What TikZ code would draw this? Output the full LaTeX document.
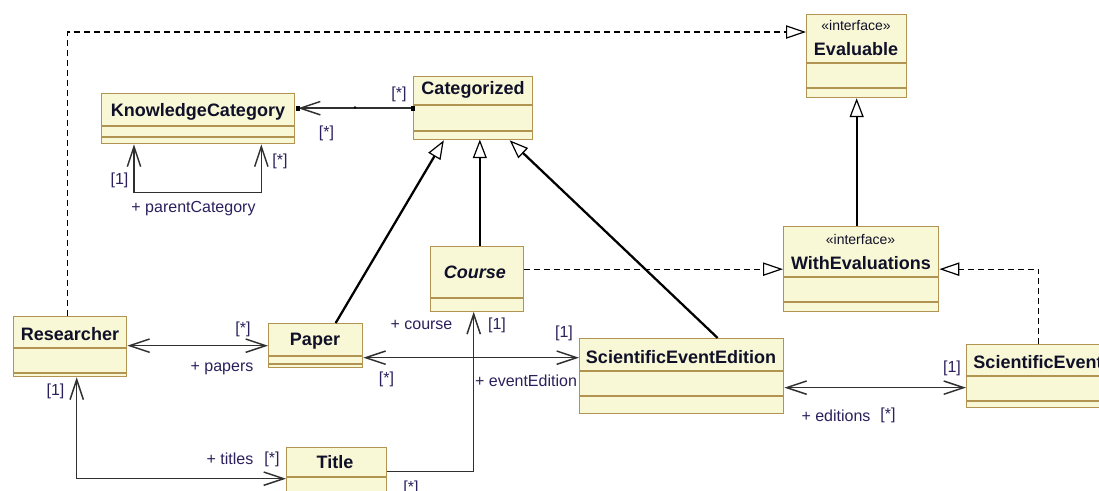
\documentclass[tikz,border=0pt]{standalone}
\usepackage{fontspec}
\setmainfont{Liberation Sans}
\usetikzlibrary{arrows.meta}

\definecolor{clsfill}{RGB}{248,248,214}
\definecolor{clsborder}{RGB}{178,148,82}
\definecolor{namecol}{RGB}{16,16,40}
\definecolor{lblcol}{RGB}{44,32,92}
\definecolor{linecol}{RGB}{48,48,48}

\tikzset{every picture/.style={line width=0.75pt}}
\tikzset{
  cls/.style 2 args={draw=clsborder, fill=clsfill, line width=1pt, inner sep=0pt, anchor=north west,
    minimum width=#1*0.75pt, minimum height=#2*0.75pt},
  clsline/.style={draw=clsborder, line width=1pt},
  cname/.style={font=\fontsize{13.5}{16}\selectfont\bfseries, text=namecol, inner sep=0pt},
  stereo/.style={font=\fontsize{10.5}{12}\selectfont, text=namecol, inner sep=0pt},
  lbl/.style={font=\fontsize{12}{14}\selectfont, text=lblcol, inner sep=0pt},
  assoc/.style={draw=linecol, line width=1.1pt},
  barb/.style={assoc, -{Straight Barb[length=15pt,width=10pt]}},
  barbs/.style={assoc, {Straight Barb[length=15pt,width=10pt]}-{Straight Barb[length=15pt,width=10pt]}},
  gen/.style={draw=black, line width=1.7pt, -{Triangle[open, length=14pt, width=10.5pt, line width=0.9pt]}},
  real/.style={draw=black, line width=1pt, dash pattern=on 4.5pt off 3pt,
    -{Triangle[open, length=15pt, width=10pt, line width=0.9pt]}},
  endsq/.style={fill=black, inner sep=0pt, minimum size=3.5pt},
  middot/.style={fill=black, circle, inner sep=0pt, minimum size=2pt},
}

\begin{document}
\begin{tikzpicture}[x=0.75pt,y=0.75pt,yscale=-1,xscale=1]
\clip (0,0) rectangle (1099,490);
\fill[white] (0,0) rectangle (1099,490);

%Class: Evaluable
\node[cls={100}{83}] (ev) at (806,14) {};
\draw[clsline] (806,63) -- (906,63) (806,88) -- (906,88);
\node[stereo] (ev-st) at (856,25.5) {«interface»};
\node[cname] (ev-name) at (856,49) {Evaluable};

%Class: Categorized
\node[cls={119}{63}] (cat) at (413,76) {};
\draw[clsline] (413,105) -- (532,105) (413,131) -- (532,131);
\node[cname] (cat-name) at (473,89.5) {Categorized};

%Class: KnowledgeCategory
\node[cls={193}{50}] (kc) at (101,93) {};
\draw[clsline] (101,126) -- (294,126) (101,137) -- (294,137);
\node[cname] (kc-name) at (198,111.5) {KnowledgeCategory};

%Class: WithEvaluations
\node[cls={155}{85}] (we) at (783,226) {};
\draw[clsline] (783,277) -- (938,277) (783,302) -- (938,302);
\node[stereo] (we-st) at (860.5,239.5) {«interface»};
\node[cname] (we-name) at (861,263.5) {WithEvaluations};

%Class: Course
\node[cls={93}{65}] (course) at (430,245.5) {};
\draw[clsline] (430,298) -- (523,298);
\node[cname] (course-name) at (475,272.5) {\itshape Course};

%Class: Researcher
\node[cls={113}{60}] (res) at (13,316) {};
\draw[clsline] (13,348) -- (126,348) (13,373) -- (126,373);
\node[cname] (res-name) at (70,334) {Researcher};

%Class: Paper
\node[cls={94}{44}] (paper) at (268,323) {};
\draw[clsline] (268,356) -- (362,356) (268,364) -- (362,364);
\node[cname] (paper-name) at (315,341) {Paper};

%Class: ScientificEventEdition
\node[cls={204}{75}] (see) at (579,338) {};
\draw[clsline] (579,371) -- (783,371) (579,396) -- (783,396);
\node[cname] (see-name) at (681,357.5) {ScientificEventEdition};

%Class: ScientificEvent
\node[cls={144}{63}] (se) at (966,344) {};
\draw[clsline] (966,376) -- (1110,376) (966,401) -- (1110,401);
\node[cname] (se-name) at (1038,362) {ScientificEvent};

%Class: Title
\node[cls={100}{62}] (title) at (286,447) {};
\draw[clsline] (286,477) -- (386,477);
\node[cname] (title-name) at (335,462.5) {Title};

%Realizations
\draw[real] ([xshift=-1.9pt]res.north) |- ([yshift=13.5pt]ev.north west);
\draw[real] (course.east |- we.west) -- (we.west);
\draw[real] (se.north) |- (we.east);

%Generalizations
\draw[gen] (we.north -| ev.south) -- (ev.south);
\draw[gen] ([xshift=15pt]paper.north) -- ([xshift=-22pt]cat.south);
\draw[gen] ([xshift=2pt]course.north) -- ++(0,-106);
\draw[gen] ([xshift=27pt]see.north) -- ([xshift=27.4pt]cat.south);

%Association: KnowledgeCategory -- Categorized
\coordinate (kc-end) at ([xshift=2pt]cat.west -| kc.east);
\draw[barb] (cat.west) -- (kc-end);
\node[endsq] (kc-sq) at (kc-end) {};
\node[endsq] (cat-sq) at (cat.west) {};
\node[middot] (kc-mid) at (355,107.5) {};
\node[lbl] (kc-m1) at (399,94) {[*]};
\node[lbl] (kc-m2) at (326.5,133) {[*]};

%Association: parentCategory
\draw[barbs] ([xshift=24.75pt]kc.south west) -- ++(0,48) -| ([xshift=-25.5pt]kc.south east);
\node[lbl] (pc-m1) at (119.5,180) {[1]};
\node[lbl] (pc-m2) at (280,161) {[*]};
\node[lbl] (pc-name) at (193.5,209) {+ parentCategory};

%Association: Researcher -- Paper
\draw[barbs] (res.east |- paper.west) -- (paper.west);
\node[lbl] (pp-m) at (243,329.5) {[*]};
\node[lbl] (pp-name) at (222,368.5) {+ papers};

%Association: Researcher -- Title
\draw[barbs] ([xshift=4.9pt]res.south) |- (title.west);
\node[lbl] (tt-m1) at (55.5,391.5) {[1]};
\node[lbl] (tt-name) at (230,459) {+ titles};
\node[lbl] (tt-m2) at (272,459) {[*]};

%Association: Title -- Course
\draw[barb] ([yshift=-5.25pt]title.east) -| ([xshift=-2.6pt]course.south);
\node[lbl] (co-name) at (421.5,324.5) {+ course};
\node[lbl] (co-m1) at (497,325.5) {[1]};
\node[lbl] (co-m2) at (411,488) {[*]};

%Association: Paper -- ScientificEventEdition
\coordinate (pe) at ([yshift=9pt]paper.east);
\draw[barbs] (pe) -- (pe -| see.west);
\node[lbl] (ee-m1) at (386.5,379.5) {[*]};
\node[lbl] (ee-m2) at (564,333) {[1]};
\node[lbl] (ee-name) at (526,380.5) {+ eventEdition};

%Association: ScientificEventEdition -- ScientificEvent
\coordinate (sq) at ([yshift=8.6pt]see.east);
\draw[barbs] (sq) -- (sq -| se.west);
\node[lbl] (ed-name) at (836,415.5) {+ editions};
\node[lbl] (ed-m1) at (888,415.5) {[*]};
\node[lbl] (ed-m2) at (952,368) {[1]};

\end{tikzpicture}
\end{document}
